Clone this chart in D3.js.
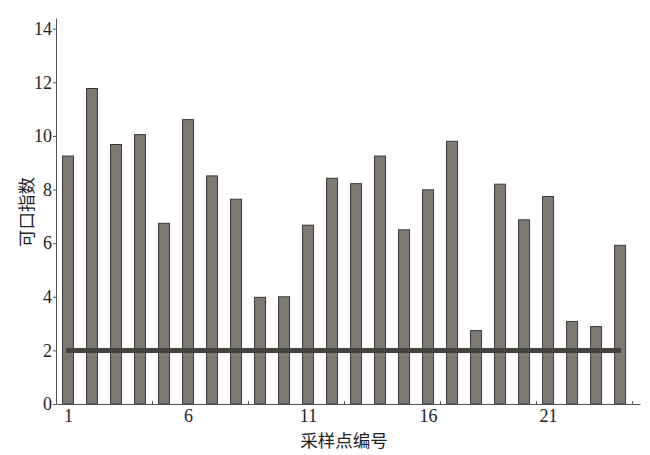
<!DOCTYPE html>
<html>
<head>
<meta charset="utf-8">
<script src="https://cdn.jsdelivr.net/npm/d3@7"></script>
<style>
  body { margin: 0; background: #fff; }
  svg { display: block; }
  .tick text { font-family: "Liberation Serif", "DejaVu Serif", serif; font-size: 18px; fill: #222; }
  .domain { stroke: #555; }
  .tick line { stroke: #555; }
</style>
</head>
<body>
<svg width="650" height="455"></svg>
<script>
var sites = d3.range(1, 25);
var values = [9.25, 11.77, 9.68, 10.05, 6.74, 10.61, 8.51, 7.64, 3.98, 4.0, 6.67, 8.42,
              8.22, 9.25, 6.5, 7.99, 9.8, 2.74, 8.2, 6.87, 7.74, 3.08, 2.89, 5.92];
var threshold = 2;
var xTicks = [1, 6, 11, 16, 21];
var xMinorTicks = [4.5, 8.5, 12.5, 16.5, 20.5, 24.5];
var yTicks = [0, 2, 4, 6, 8, 10, 12, 14];

var svg = d3.select("svg");

var x = d3.scaleLinear().domain([0.5, 24.83]).range([56, 640]);
var y = d3.scaleLinear().domain([0, 14.4]).range([404, 18]);

// bars
svg.append("g")
    .selectAll("rect")
    .data(values)
    .enter().append("rect")
    .attr("x", function(d, i) { return x(sites[i]) - 5.5; })
    .attr("width", 11)
    .attr("y", function(d) { return y(d); })
    .attr("height", function(d) { return y(0) - y(d); })
    .attr("fill", "#7e7a73")
    .attr("stroke", "#3a3a3a")
    .attr("stroke-width", 1);

// threshold line
svg.append("line")
    .attr("x1", x(1) - 2)
    .attr("x2", x(24) + 1)
    .attr("y1", y(threshold))
    .attr("y2", y(threshold))
    .attr("stroke", "#444240")
    .attr("stroke-width", 5);

// axes
svg.append("g")
    .attr("transform", "translate(0," + y(0) + ")")
    .call(d3.axisBottom(x).tickValues(xTicks).tickSize(0).tickPadding(5).tickFormat(d3.format("d")));

svg.append("g")
    .attr("transform", "translate(0," + y(0) + ")")
    .call(d3.axisBottom(x).tickValues(xMinorTicks).tickSizeInner(-3).tickSizeOuter(0).tickFormat(""))
    .select(".domain").remove();

svg.append("g")
    .attr("transform", "translate(" + x(0.5) + ",0)")
    .call(d3.axisLeft(y).tickValues(yTicks).tickSizeInner(3).tickSizeOuter(0).tickPadding(1));

// axis titles
svg.append("text")
    .attr("x", 344)
    .attr("y", 447)
    .attr("text-anchor", "middle")
    .style("font-family", "'Noto Sans CJK SC', sans-serif")
    .style("font-size", "17.5px")
    .attr("fill", "#222")
    .text("采样点编号");

svg.append("text")
    .attr("transform", "translate(33,212) rotate(-90)")
    .attr("text-anchor", "middle")
    .style("font-family", "'Noto Sans CJK SC', sans-serif")
    .style("font-size", "17.5px")
    .attr("fill", "#222")
    .text("可口指数");
</script>
</body>
</html>
